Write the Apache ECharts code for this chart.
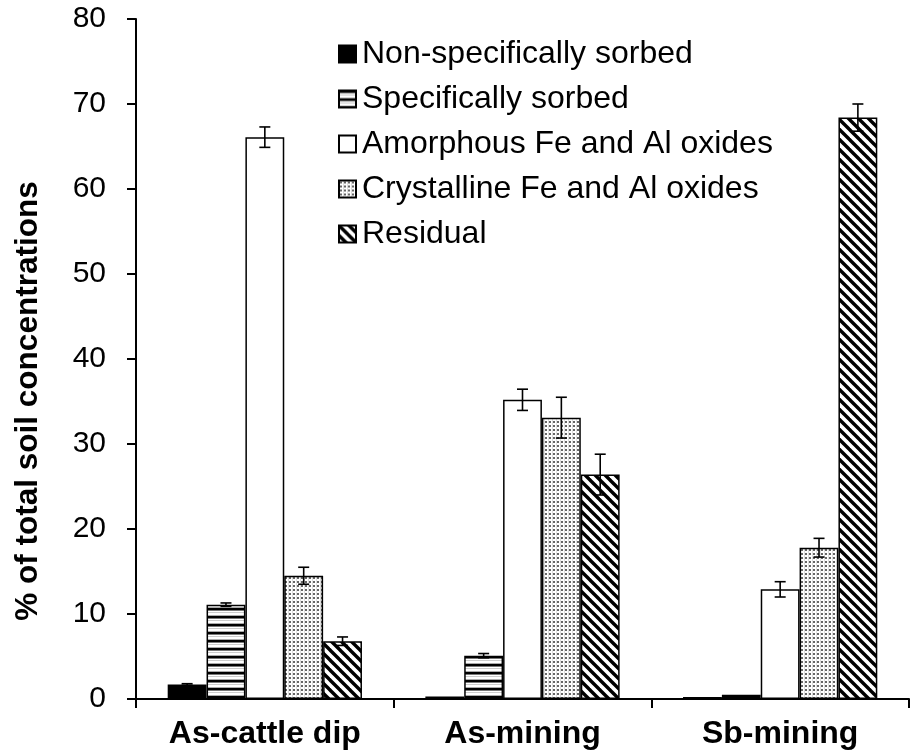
<!DOCTYPE html>
<html>
<head>
<meta charset="utf-8">
<script src="https://cdn.jsdelivr.net/npm/echarts@6/dist/echarts.min.js"></script>
<style>html,body{margin:0;padding:0;background:#fff}#c{width:910px;height:756px}</style>
</head>
<body>
<div id="c"></div>
<script>
const categories = ['As-cattle dip', 'As-mining', 'Sb-mining'];
const seriesNames = ['Non-specifically sorbed', 'Specifically sorbed', 'Amorphous Fe and Al oxides', 'Crystalline Fe and Al oxides', 'Residual'];
const nonSpec = [1.7, 0.3, 0.25];
const specSorbed = [11.1, 5.1, 0.5];
const amorphous = [66.1, 35.2, 12.9];
const crystalline = [14.5, 33.1, 17.8];
const residual = [6.8, 26.4, 68.4];
const errNonSpec = [0.1, 0, 0];
const errSpec = [0.2, 0.25, 0];
const errAmorph = [1.2, 1.25, 0.9];
const errCryst = [1.0, 2.4, 1.1];
const errResid = [0.5, 2.4, 1.6];
const yTicks = [0, 10, 20, 30, 40, 50, 60, 70, 80];

function makeCanvas(w, h, draw) {
  const c = document.createElement('canvas');
  c.width = w; c.height = h;
  const ctx = c.getContext('2d');
  draw(ctx, w, h);
  return { image: c, repeat: 'repeat' };
}
const stripes = makeCanvas(8, 8, (ctx) => {
  ctx.fillStyle = '#fff'; ctx.fillRect(0, 0, 8, 8);
  ctx.fillStyle = '#000'; ctx.fillRect(0, 0, 8, 2);
  ctx.fillStyle = '#777'; ctx.fillRect(0, 2, 8, 1);
  ctx.fillStyle = '#aaa'; ctx.fillRect(0, 7, 8, 1);
  ctx.fillStyle = '#ccc'; ctx.fillRect(0, 4, 8, 1);
});
const dots = makeCanvas(4, 4, (ctx) => {
  ctx.fillStyle = '#fff'; ctx.fillRect(0, 0, 4, 4);
  ctx.fillStyle = '#666'; ctx.fillRect(1, 1, 2, 2);
  ctx.fillStyle = '#ddd'; ctx.fillRect(0, 0, 1, 4);
});
const diag = makeCanvas(10, 10, (ctx) => {
  ctx.fillStyle = '#fff'; ctx.fillRect(0, 0, 10, 10);
  ctx.strokeStyle = '#000'; ctx.lineWidth = 3.4;
  [-10, 0, 10].forEach(o => {
    ctx.beginPath(); ctx.moveTo(o - 2, -2); ctx.lineTo(o + 12, 12); ctx.stroke();
  });
});

const values = [nonSpec, specSorbed, amorphous, crystalline, residual];
const errors = [errNonSpec, errSpec, errAmorph, errCryst, errResid];
const fills = ['#000', stripes, '#fff', dots, diag];
const GAP = '24.6%';
const FONT = 'Liberation Sans, Arial, sans-serif';

const barSeries = seriesNames.map((name, i) => ({
  name: name,
  type: 'bar',
  data: values[i],
  barGap: '0%',
  barCategoryGap: GAP,
  itemStyle: { color: fills[i], borderColor: '#000', borderWidth: 1.5 },
  emphasis: { disabled: true }
}));

const errData = [];
values.forEach((arr, s) => arr.forEach((v, c) => {
  if (errors[s][c] > 0) errData.push([c, s, v, errors[s][c]]);
}));

const option = {
  animation: false,
  backgroundColor: '#fff',
  textStyle: { fontFamily: FONT, color: '#000' },
  grid: { left: 136, right: 1, top: 19, bottom: 57, containLabel: false },
  legend: {
    data: seriesNames,
    orient: 'vertical',
    left: 333, top: 33,
    itemWidth: 17, itemHeight: 17, itemGap: 13,
    icon: 'rect',
    textStyle: { fontSize: 32, color: '#000', fontFamily: FONT, padding: [0, 0, 0, 1] },
    selectedMode: false
  },
  xAxis: {
    type: 'category',
    data: categories,
    axisLine: { lineStyle: { color: '#000', width: 2 } },
    axisTick: { show: true, alignWithLabel: false, length: 9, lineStyle: { color: '#000', width: 2 } },
    axisLabel: { fontSize: 32, fontWeight: 'bold', color: '#000', margin: 19, fontFamily: FONT },
    splitLine: { show: false }
  },
  yAxis: {
    type: 'value',
    min: yTicks[0], max: yTicks[yTicks.length - 1], interval: 10,
    name: '% of total soil concentrations',
    nameLocation: 'middle',
    nameGap: 92,
    nameTextStyle: { fontSize: 31.5, fontWeight: 'bold', color: '#000', fontFamily: FONT, padding: [0, 84, 0, 0] },
    axisLine: { show: true, lineStyle: { color: '#000', width: 2 } },
    axisTick: { show: true, length: 9, lineStyle: { color: '#000', width: 2 } },
    axisLabel: { fontSize: 30, color: '#000', margin: 30, fontFamily: FONT },
    splitLine: { show: false }
  },
  series: barSeries.concat([{
    type: 'custom',
    name: 'errors',
    z: 10,
    data: errData,
    encode: { x: 0, y: 2 },
    renderItem: function (params, api) {
      const c = api.value(0), s = api.value(1), v = api.value(2), e = api.value(3);
      const layout = api.barLayout({ barGap: '0%', barCategoryGap: GAP, count: 5 });
      const x = api.coord([c, v])[0] + layout[s].offsetCenter;
      const yHi = api.coord([c, v + e])[1];
      const yLo = api.coord([c, v - e])[1];
      const hw = 5.5;
      const st = { stroke: '#000', lineWidth: 1.6 };
      return {
        type: 'group',
        children: [
          { type: 'line', shape: { x1: x, y1: yHi, x2: x, y2: yLo }, style: st },
          { type: 'line', shape: { x1: x - hw, y1: yHi, x2: x + hw, y2: yHi }, style: st },
          { type: 'line', shape: { x1: x - hw, y1: yLo, x2: x + hw, y2: yLo }, style: st }
        ]
      };
    }
  }])
};
const chart = echarts.init(document.getElementById('c'), null, { renderer: 'canvas' });
chart.setOption(option);
</script>
</body>
</html>
